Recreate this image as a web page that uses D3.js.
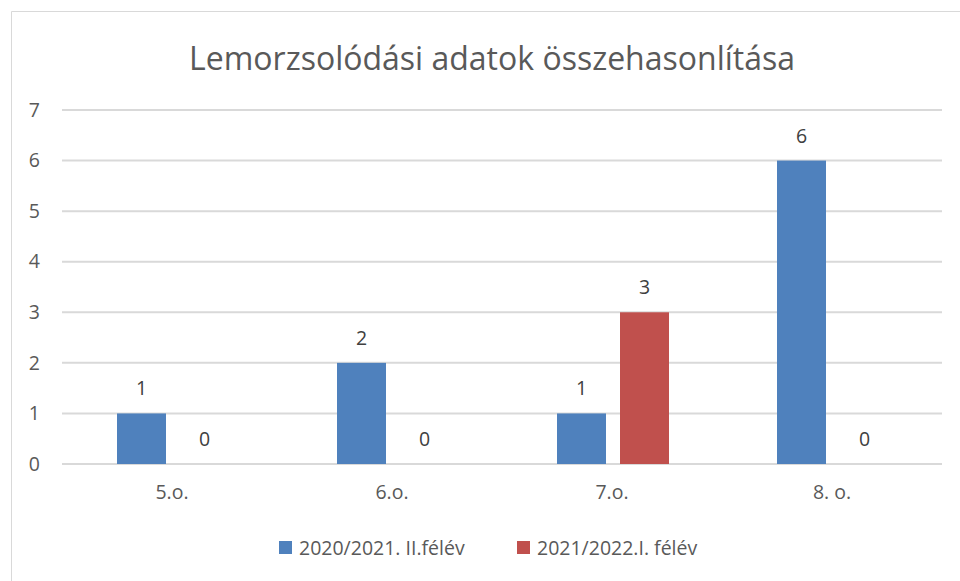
<!DOCTYPE html>
<html>
<head>
<meta charset="utf-8">
<script src="https://cdn.jsdelivr.net/npm/d3@7"></script>
<style>
  body { margin: 0; background: #fff; }
  text { font-family: "Open Sans", sans-serif; }
</style>
</head>
<body>
<div id="chart"></div>
<script>
var categories = ["5.o.", "6.o.", "7.o.", "8. o."];
var seriesNames = ["2020/2021. II.félév", "2021/2022.I. félév"];
var series1 = [1, 2, 1, 6];
var series2 = [0, 0, 3, 0];
var yTicks = [0, 1, 2, 3, 4, 5, 6, 7];
var colors = ["#4F81BD", "#C0504D"];

var W = 960, H = 581;
var margin = { top: 110, right: 18, bottom: 117, left: 62 },
  width = W - margin.left - margin.right,
  height = H - margin.top - margin.bottom;

var svg = d3.select("#chart")
  .append("svg")
  .attr("width", W)
  .attr("height", H);

// chart frame (only top and left edges visible)
svg.append("path")
  .attr("d", "M11.5," + H + "V11.5H" + W)
  .attr("fill", "none")
  .attr("stroke", "#d9d9d9")
  .attr("stroke-width", 1);

svg.append("text")
  .attr("x", 492)
  .attr("y", 70)
  .attr("text-anchor", "middle")
  .style("font-size", "32px")
  .style("fill", "#595959")
  .text("Lemorzsolódási adatok összehasonlítása");

var g = svg.append("g")
  .attr("transform", "translate(" + margin.left + "," + margin.top + ")");

var x0 = d3.scaleBand()
  .domain(categories)
  .range([0, width]);

var x1 = d3.scaleBand()
  .domain(seriesNames)
  .range([55, 167])
  .paddingInner(14 / 63);

var y = d3.scaleLinear()
  .domain([0, 7])
  .range([height, 0]);

// gridlines
g.append("g")
  .selectAll("line")
  .data(yTicks)
  .enter()
  .append("line")
  .attr("x1", 0)
  .attr("x2", width)
  .attr("y1", function (d) { return y(d); })
  .attr("y2", function (d) { return y(d); })
  .attr("stroke", "#d9d9d9")
  .attr("stroke-width", 2);

// y tick labels
var yAxis = g.append("g")
  .call(d3.axisLeft(y).tickValues(yTicks).tickFormat(d3.format("d")).tickSize(0).tickPadding(22));
yAxis.select(".domain").remove();
yAxis.selectAll("text")
  .style("font-size", "19.5px")
  .style("fill", "#595959")
  .style("font-family", "'Open Sans', sans-serif");

// x labels
var xAxis = g.append("g")
  .attr("transform", "translate(0," + height + ")")
  .call(d3.axisBottom(x0).tickSize(0).tickPadding(21));
xAxis.select(".domain").remove();
xAxis.selectAll("text")
  .style("font-size", "19.5px")
  .style("fill", "#595959")
  .style("font-family", "'Open Sans', sans-serif");

var rows = categories.map(function (c, i) {
  return { cat: c, vals: [series1[i], series2[i]] };
});

var groups = g.selectAll(".grp")
  .data(rows)
  .enter()
  .append("g")
  .attr("class", "grp")
  .attr("transform", function (d) { return "translate(" + x0(d.cat) + ",0)"; });

var cells = function (d) {
  return d.vals.map(function (v, j) { return { name: seriesNames[j], v: v, j: j }; });
};

groups.selectAll("rect")
  .data(cells)
  .enter()
  .append("rect")
  .attr("x", function (d) { return x1(d.name); })
  .attr("width", x1.bandwidth())
  .attr("y", function (d) { return y(d.v); })
  .attr("height", function (d) { return height - y(d.v); })
  .style("fill", function (d) { return colors[d.j]; });

groups.selectAll(".lbl")
  .data(cells)
  .enter()
  .append("text")
  .attr("class", "lbl")
  .attr("x", function (d) { return x1(d.name) + x1.bandwidth() / 2; })
  .attr("y", function (d) { return y(d.v) - 18; })
  .attr("text-anchor", "middle")
  .style("font-size", "19.5px")
  .style("fill", "#404040")
  .text(function (d) { return d.v; });

// legend
var legendX = [279, 517];
var legend = svg.append("g")
  .selectAll("g")
  .data(seriesNames)
  .enter()
  .append("g")
  .attr("transform", function (d, i) { return "translate(" + legendX[i] + ",541)"; });

legend.append("rect")
  .attr("width", 13)
  .attr("height", 13)
  .style("fill", function (d, i) { return colors[i]; });

legend.append("text")
  .attr("x", 20)
  .attr("y", 14)
  .style("font-size", "19.5px")
  .style("fill", "#595959")
  .text(function (d) { return d; });
</script>
</body>
</html>
